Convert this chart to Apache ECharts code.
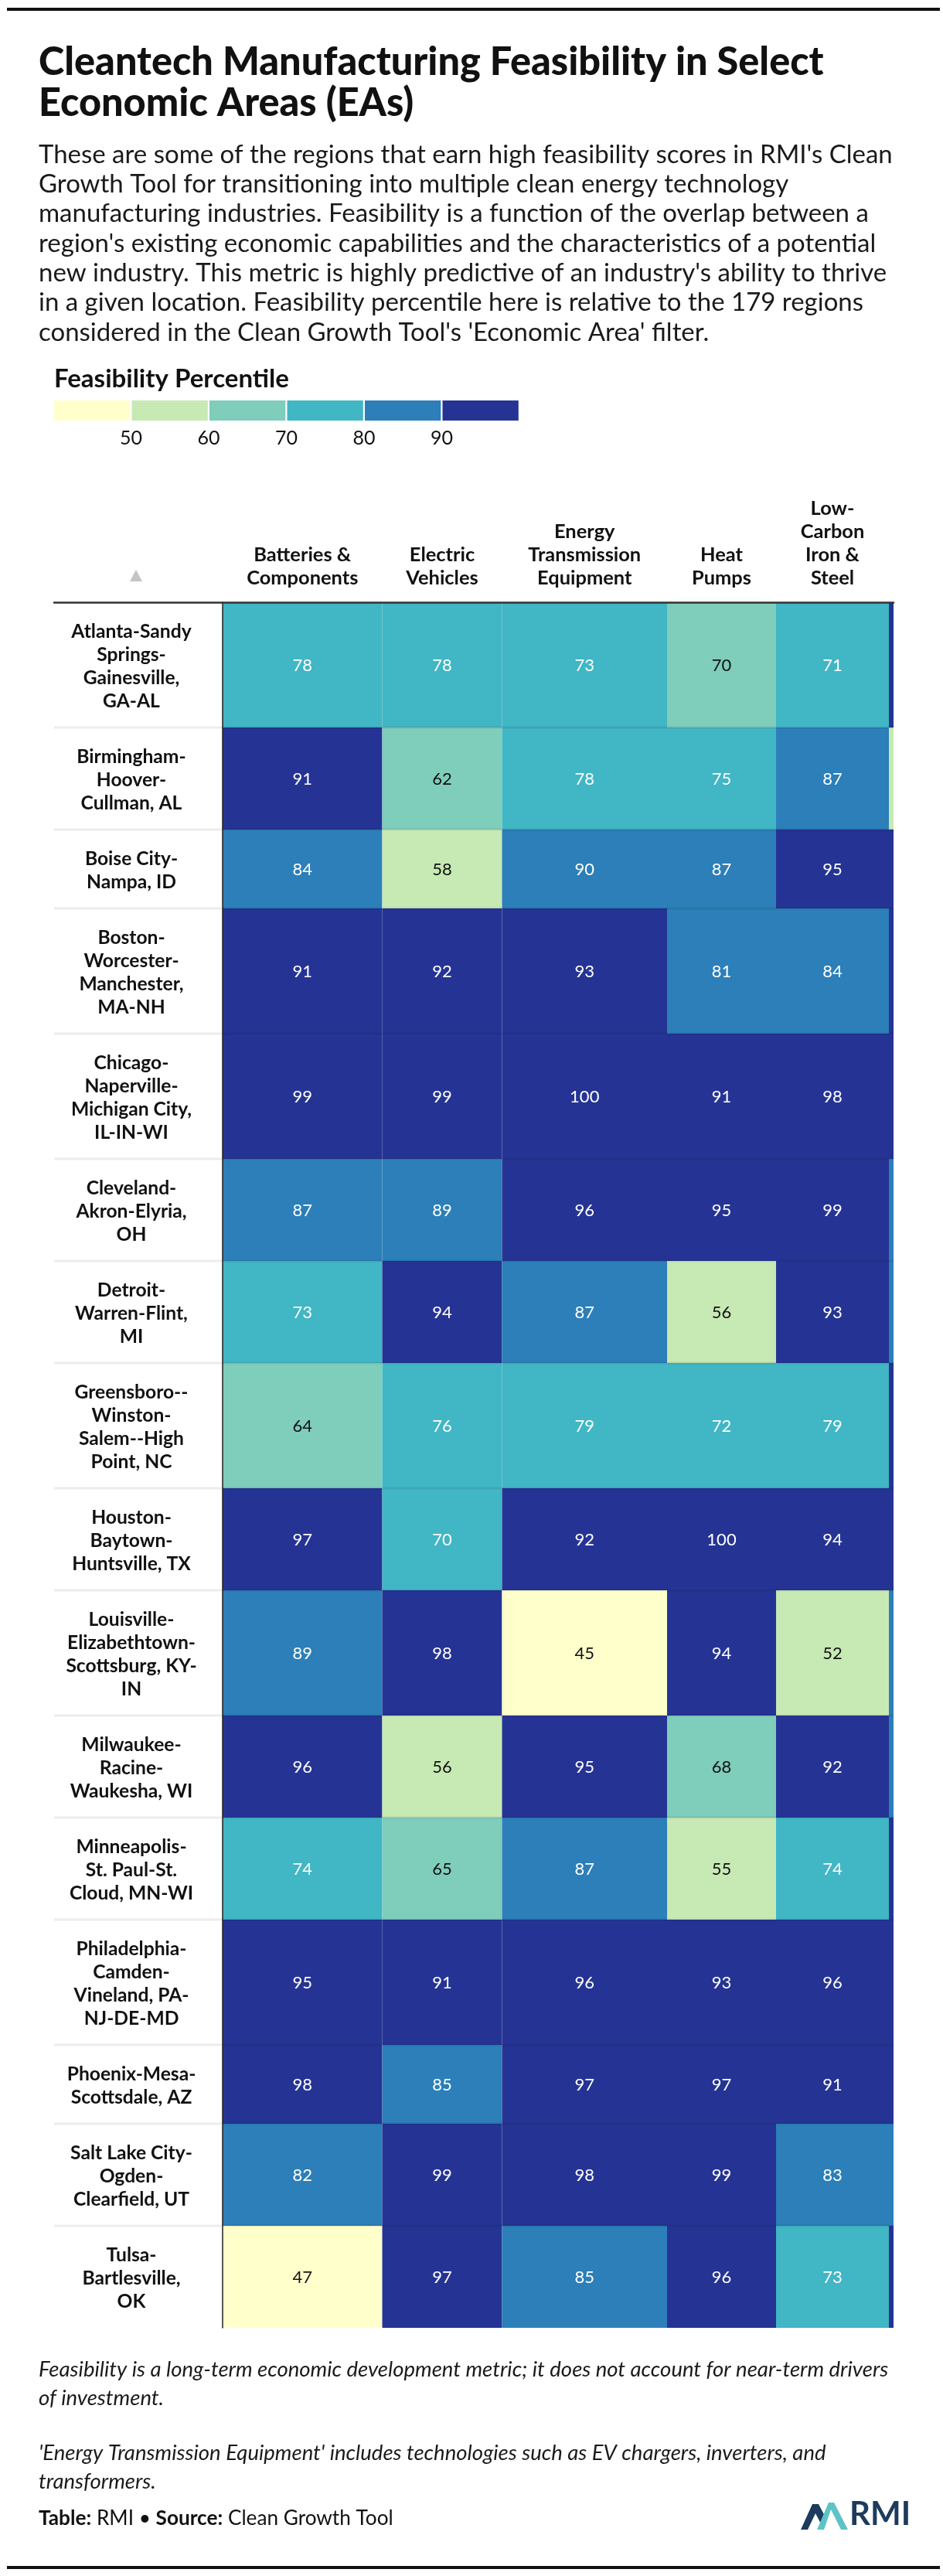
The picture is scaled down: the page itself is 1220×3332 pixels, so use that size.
<!DOCTYPE html>
<html><head><meta charset="utf-8">
<script src="https://cdn.jsdelivr.net/npm/echarts@6/dist/echarts.min.js"></script>
<style>html,body{margin:0;padding:0;background:#fff}#c{width:1220px;height:3332px}</style>
</head><body><div id="c"></div>
<script>
// ---------------- DATA ----------------
const titleText = "Cleantech Manufacturing Feasibility in Select\nEconomic Areas (EAs)";
const subtitleLines = [
  "These are some of the regions that earn high feasibility scores in RMI's Clean",
  "Growth Tool for transitioning into multiple clean energy technology",
  "manufacturing industries. Feasibility is a function of the overlap between a",
  "region's existing economic capabilities and the characteristics of a potential",
  "new industry. This metric is highly predictive of an industry's ability to thrive",
  "in a given location. Feasibility percentile here is relative to the 179 regions",
  "considered in the Clean Growth Tool's 'Economic Area' filter."
];
const legendTitle = "Feasibility Percentile";
const legendTicks = [50, 60, 70, 80, 90];
const binColors = ['#ffffcc', '#c7e9b4', '#7fcdbb', '#41b6c4', '#2c7fb8', '#253494'];

const columns = [
  "Batteries &\nComponents",
  "Electric\nVehicles",
  "Energy\nTransmission\nEquipment",
  "Heat\nPumps",
  "Low-\nCarbon\nIron &\nSteel",
  "" // sixth column, scrolled out of view (only a sliver shows)
];
const regions = [
  "Atlanta-Sandy\nSprings-\nGainesville,\nGA-AL",
  "Birmingham-\nHoover-\nCullman, AL",
  "Boise City-\nNampa, ID",
  "Boston-\nWorcester-\nManchester,\nMA-NH",
  "Chicago-\nNaperville-\nMichigan City,\nIL-IN-WI",
  "Cleveland-\nAkron-Elyria,\nOH",
  "Detroit-\nWarren-Flint,\nMI",
  "Greensboro--\nWinston-\nSalem--High\nPoint, NC",
  "Houston-\nBaytown-\nHuntsville, TX",
  "Louisville-\nElizabethtown-\nScottsburg, KY-\nIN",
  "Milwaukee-\nRacine-\nWaukesha, WI",
  "Minneapolis-\nSt. Paul-St.\nCloud, MN-WI",
  "Philadelphia-\nCamden-\nVineland, PA-\nNJ-DE-MD",
  "Phoenix-Mesa-\nScottsdale, AZ",
  "Salt Lake City-\nOgden-\nClearfield, UT",
  "Tulsa-\nBartlesville,\nOK"
];
const batteries          = [78, 91, 84, 91, 99, 87, 73, 64, 97, 89, 96, 74, 95, 98, 82, 47];
const electricVehicles   = [78, 62, 58, 92, 99, 89, 94, 76, 70.4, 98, 56, 65, 91, 85, 99, 97];
const energyTransmission = [73, 78, 89.6, 93, 100, 96, 87, 79, 92, 45, 95, 87, 96, 97, 98, 85];
const heatPumps          = [69.6, 75, 87, 81, 91, 95, 56, 72, 100, 94, 68, 55, 93, 97, 99, 96];
const lowCarbonSteel     = [71, 87, 95, 84, 98, 99, 93, 79, 94, 52, 92, 74, 96, 91, 83, 73];
const hiddenColumn       = [93, 57, 92, 94, 97, 86, 84, 91, 95, 88, 85, 92, 96, 93, 86, 94]; // estimated from visible sliver colour only

const notes = [
  "Feasibility is a long-term economic development metric; it does not account for near-term drivers\nof investment.",
  "'Energy Transmission Equipment' includes technologies such as EV chargers, inverters, and\ntransformers."
];
const sourceParts = ["Table:", " RMI • ", "Source:", " Clean Growth Tool"];

// ---------------- LAYOUT / STYLE ----------------
const FONT = 'Lato, "Open Sans", sans-serif';
const colWidths = [206.5, 155, 213.5, 141, 146, 150];
const LABEL_COL_W = 218;
const LABEL_CENTER = -118;
const SLIVER = 6;
const LINE_H = 30, ROW_PAD = 42;
const TABLE_TOP = 779, TABLE_LEFT = 70;

const mctx = document.createElement('canvas').getContext('2d');
function textW(t, weight, style) {
  mctx.font = `${style || 'normal'} ${weight || 'normal'} 100px Lato`;
  return mctx.measureText(t).width;
}
function fitSize(t, weight, style, target) { return 100 * target / textW(t, weight, style); }

const TITLE_WEIGHT = 900;
const titleSize = fitSize("Cleantech Manufacturing Feasibility in Select", TITLE_WEIGHT, 'normal', 1016);
const subSize = fitSize(subtitleLines[0], 'normal', 'normal', 1105);
const noteSize = fitSize("Feasibility is a long-term economic development metric; it does not account for near-term drivers", 'normal', 'italic', 1100);
const legTitleSize = fitSize(legendTitle, 'bold', 'normal', 304);
const srcSize = 100 * 459 / (textW(sourceParts[0], 'bold') + textW(sourceParts[1]) + textW(sourceParts[2], 'bold') + textW(sourceParts[3]));
const rowLabelSize = fitSize("Elizabethtown-", 'bold', 'normal', 166);
const headerSize = fitSize("Transmission", 'bold', 'normal', 146);

const colStart = [0];
colWidths.forEach(w => colStart.push(colStart[colStart.length - 1] + w));
const rowStart = [0];
regions.forEach(r => rowStart.push(rowStart[rowStart.length - 1] + r.split('\n').length * LINE_H + ROW_PAD));
const TOTAL_H = rowStart[rowStart.length - 1];
const X_MAX = colStart[5] + SLIVER;

const valueCols = [batteries, electricVehicles, energyTransmission, heatPumps, lowCarbonSteel, hiddenColumn];
const cellData = [];
regions.forEach((_, r) => valueCols.forEach((col, c) => cellData.push([c, r, col[r]])));

const pieces = [{ lte: legendTicks[0], color: binColors[0] }];
for (let i = 0; i < legendTicks.length - 1; i++) pieces.push({ gt: legendTicks[i], lte: legendTicks[i + 1], color: binColors[i + 1] });
pieces.push({ gt: legendTicks[legendTicks.length - 1], color: binColors[binColors.length - 1] });

function isLight(hex) {
  const h = hex.replace('#', '');
  const r = parseInt(h.substr(0, 2), 16), g = parseInt(h.substr(2, 2), 16), b = parseInt(h.substr(4, 2), 16);
  return (0.299 * r + 0.587 * g + 0.114 * b) > 175;
}

// ---------------- GRAPHIC (titles, legend, notes) ----------------
const SW = 98.3, SG = 2.2, LEG_X = 70, LEG_Y = 518, LEG_H = 26;
const graphics = [
  { type: 'rect', shape: { x: 9, y: 10, width: 1207, height: 4 }, style: { fill: '#111' } },
  { type: 'text', x: 50, y: 54, style: { text: titleText, fill: '#111', fontFamily: FONT, fontWeight: TITLE_WEIGHT, fontSize: titleSize, lineHeight: 53, verticalAlign: 'top' } },
  { type: 'text', x: 50, y: 181, style: { text: subtitleLines.join('\n'), fill: '#1a1a1a', fontFamily: FONT, fontSize: subSize, lineHeight: 38.3, verticalAlign: 'top' } },
  { type: 'text', x: 70, y: 490, style: { text: legendTitle, fill: '#111', fontFamily: FONT, fontWeight: 'bold', fontSize: legTitleSize, verticalAlign: 'middle' } }
];
binColors.forEach((c, i) => graphics.push({ type: 'rect', shape: { x: LEG_X + i * (SW + SG), y: LEG_Y, width: SW, height: LEG_H }, style: { fill: c } }));
legendTicks.forEach((t, i) => graphics.push({ type: 'text', x: LEG_X + (i + 1) * (SW + SG) - SG / 2, y: 567, style: { text: String(t), fill: '#111', fontFamily: FONT, fontSize: 25, align: 'center', verticalAlign: 'middle' } }));
graphics.push({ type: 'polygon', shape: { points: [[168, 752], [184, 752], [176, 737]] }, style: { fill: '#c4c4c4' } });
graphics.push({ type: 'text', x: 50, y: 3047, style: { text: notes[0], fill: '#1a1a1a', fontFamily: FONT, fontStyle: 'italic', fontSize: noteSize, lineHeight: 37, verticalAlign: 'top' } });
graphics.push({ type: 'text', x: 50, y: 3155, style: { text: notes[1], fill: '#1a1a1a', fontFamily: FONT, fontStyle: 'italic', fontSize: noteSize, lineHeight: 37, verticalAlign: 'top' } });
graphics.push({ type: 'text', x: 50, y: 3258, style: {
  text: `{b|${sourceParts[0]}}{r|${sourceParts[1]}}{b|${sourceParts[2]}}{r|${sourceParts[3]}}`,
  verticalAlign: 'middle',
  rich: { b: { fontFamily: FONT, fontWeight: 'bold', fontSize: srcSize, fill: '#111' }, r: { fontFamily: FONT, fontSize: srcSize, fill: '#111' } }
} });
// RMI logo
graphics.push({ type: 'polygon', shape: { points: [[1036, 3272], [1051, 3239], [1059, 3239], [1069, 3258], [1064, 3268], [1055, 3251], [1045, 3272]] }, style: { fill: '#1d3b5c' } });
graphics.push({ type: 'polygon', shape: { points: [[1057, 3272], [1072, 3237], [1079, 3237], [1097, 3272], [1088, 3272], [1075, 3246], [1066, 3272]] }, style: { fill: '#5cc3c6' } });
graphics.push({ type: 'text', x: 1099, y: 3273, style: { text: 'RMI', fill: '#1d3b5c', fontFamily: FONT, fontWeight: 'bold', fontSize: 42, verticalAlign: 'bottom' } });
graphics.push({ type: 'rect', shape: { x: 9, y: 3319, width: 1207, height: 4 }, style: { fill: '#111' } });

// ---------------- CHART ----------------
const chart = echarts.init(document.getElementById('c'), null, { renderer: 'canvas', width: 1220, height: 3332 });
chart.setOption({
  animation: false,
  backgroundColor: '#fff',
  graphic: graphics,
  grid: { left: TABLE_LEFT, top: TABLE_TOP, width: LABEL_COL_W + X_MAX, height: TOTAL_H, containLabel: false },
  xAxis: {
    type: 'value', min: -LABEL_COL_W, max: X_MAX, position: 'top', z: 10,
    axisLine: { show: true, onZero: false, lineStyle: { color: '#333', width: 2.5 } },
    axisTick: { show: false }, axisLabel: { show: false }, splitLine: { show: false }
  },
  yAxis: {
    type: 'value', inverse: true, min: 0, max: TOTAL_H, z: 10,
    axisLine: { show: true, onZero: true, lineStyle: { color: '#222', width: 1.5 } },
    axisTick: { show: false }, axisLabel: { show: false }, splitLine: { show: false }
  },
  visualMap: { type: 'piecewise', show: false, dimension: 2, seriesIndex: 0, pieces: pieces },
  series: [
    {
      type: 'custom', clip: true, z: 2, data: cellData,
      renderItem: function (params, api) {
        const c = api.value(0), r = api.value(1), v = api.value(2);
        const p0 = api.coord([colStart[c], rowStart[r]]);
        const p1 = api.coord([colStart[c + 1], rowStart[r + 1]]);
        const color = api.visual('color');
        return {
          type: 'group',
          children: [
            { type: 'rect', shape: { x: p0[0], y: p0[1], width: p1[0] - p0[0], height: p1[1] - p0[1] }, style: { fill: color } },
            { type: 'text', x: (p0[0] + p1[0]) / 2, y: (p0[1] + p1[1]) / 2 + 1, style: { text: String(Math.round(v)), fill: isLight(color) ? '#111' : '#fff', fontFamily: FONT, fontSize: 22, align: 'center', verticalAlign: 'middle' } }
          ]
        };
      }
    },
    {
      type: 'custom', clip: false, z: 3, data: regions.map((_, i) => [i]),
      renderItem: function (params, api) {
        const r = api.value(0);
        const mid = api.coord([LABEL_CENTER, (rowStart[r] + rowStart[r + 1]) / 2]);
        const children = [
          { type: 'text', x: mid[0], y: mid[1] + 2, style: { text: regions[r], fill: '#111', fontFamily: FONT, fontWeight: 'bold', fontSize: rowLabelSize, lineHeight: LINE_H, align: 'center', verticalAlign: 'middle' } }
        ];
        if (r > 0) {
          const a = api.coord([-LABEL_COL_W, rowStart[r]]), b = api.coord([X_MAX, rowStart[r]]);
          children.push({ type: 'line', shape: { x1: a[0], y1: a[1], x2: b[0], y2: b[1] }, style: { stroke: 'rgba(0,0,0,0.075)', lineWidth: 3 } });
        }
        return { type: 'group', children: children };
      }
    },
    {
      type: 'custom', clip: false, z: 3, data: columns.map((_, i) => [i]),
      renderItem: function (params, api) {
        const i = api.value(0);
        if (!columns[i]) return null;
        const p = api.coord([(colStart[i] + colStart[i + 1]) / 2, -16]);
        return { type: 'text', x: p[0], y: p[1], style: { text: columns[i], fill: '#111', fontFamily: FONT, fontWeight: 'bold', fontSize: headerSize, lineHeight: LINE_H, align: 'center', verticalAlign: 'bottom' } };
      }
    }
  ]
});
</script>
</body></html>
